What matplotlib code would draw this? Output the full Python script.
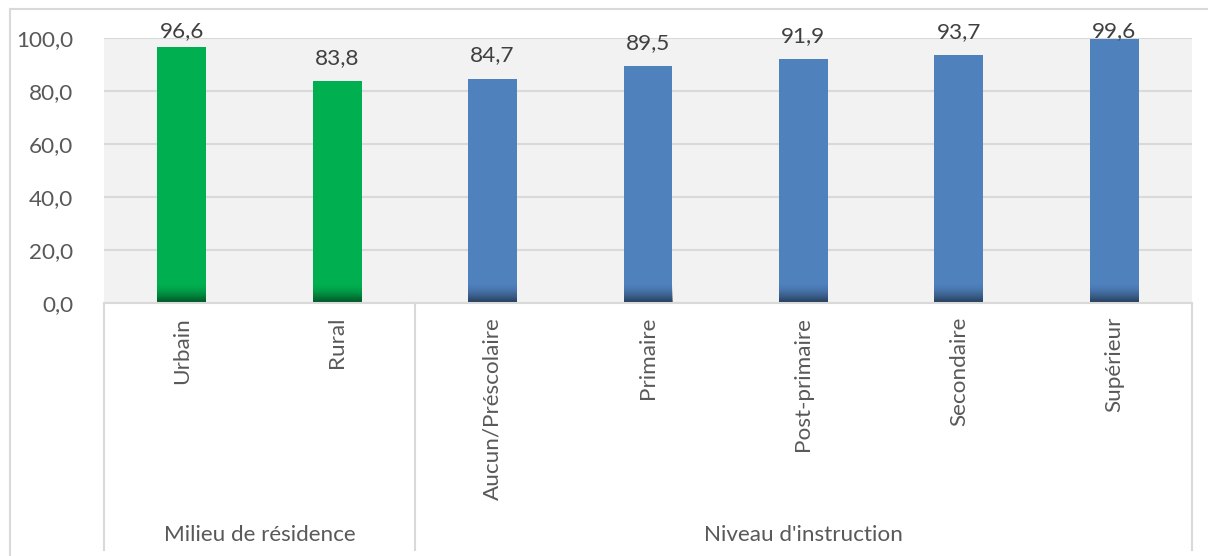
import numpy as np
import matplotlib
matplotlib.use("Agg")
import matplotlib.pyplot as plt
from matplotlib.lines import Line2D

categories = ['Urbain', 'Rural', 'Aucun/Préscolaire', 'Primaire',
              'Post-primaire', 'Secondaire', 'Supérieur']
values = [96.6, 83.8, 84.7, 89.5, 91.9, 93.7, 99.6]
groups = ['Milieu de résidence', "Niveau d'instruction"]
group_sizes = [2, 5]
group_colors = ['#00B050', '#4F81BD']
yticks = [0, 20, 40, 60, 80, 100]

plt.rcParams['font.family'] = ['Lato', 'DejaVu Sans']
txt_color = '#595959'
fs = 16.2

fig = plt.figure(figsize=(12.08, 5.56), dpi=100)
ax = fig.add_axes([104 / 1208, 1 - 303 / 556, 1088 / 1208, 265 / 556])
ax.set_facecolor('#F2F2F2')

x = np.arange(len(categories))
colors = []
for c, n in zip(group_colors, group_sizes):
    colors += [c] * n
bars = ax.bar(x, values, width=0.315, color=colors, zorder=3)

# darker gradient at the foot of each bar (dark at the bottom)
ramp = np.linspace(1, 0, 64)
grad = np.zeros((64, 1, 4))
grad[:, 0, 3] = ramp ** 1.6 * 0.55
for b in bars:
    x0 = b.get_x()
    ax.imshow(grad, extent=[x0, x0 + b.get_width(), 0, 7.5],
              origin='lower', aspect='auto', zorder=4, interpolation='bilinear')

# value labels (Excel-style, kept inside the chart top)
for xi, v in zip(x, values):
    ax.text(xi, min(v + 6.4, 100.2), f'{v:.1f}'.replace('.', ','),
            ha='center', va='baseline', fontsize=fs, color='#404040', zorder=5)

ax.set_xlim(-0.5, len(categories) - 0.5)
ax.set_ylim(0, 100)
ax.set_yticks(yticks)
ax.set_yticklabels([f'{t:.1f}'.replace('.', ',') for t in yticks])
ax.tick_params(axis='y', length=0, pad=22, labelsize=fs, labelcolor=txt_color)
ax.set_xticks([])
ax.yaxis.grid(True, color='#D9D9D9', linewidth=1.5, zorder=0)
ax.set_axisbelow(True)
for s in ax.spines.values():
    s.set_visible(False)

# multi-level category axis
def fx(v):
    return (104 + (v + 0.5) * 1088 / 7) / 1208

def fy(p):
    return 1 - p / 556

line_kw = dict(color='#D9D9D9', linewidth=1.5, transform=fig.transFigure)
fig.add_artist(Line2D([fx(-0.5), fx(6.5)], [fy(303), fy(303)], **line_kw))
bounds = np.cumsum([0] + group_sizes) - 0.5
for b in bounds:
    fig.add_artist(Line2D([fx(b), fx(b)], [fy(303), fy(550)], **line_kw))
for xi, lab in zip(x, categories):
    fig.text(fx(xi), fy(317), lab, rotation=90, ha='center', va='top',
             fontsize=fs, color=txt_color)
for i, g in enumerate(groups):
    fig.text((fx(bounds[i]) + fx(bounds[i + 1])) / 2, fy(535), g,
             ha='center', va='center', fontsize=fs, color=txt_color)

# chart border
fig.add_artist(Line2D([10 / 1208, 10 / 1208], [fy(9), 0], **line_kw))
fig.add_artist(Line2D([10 / 1208, 1], [fy(9), fy(9)], **line_kw))

fig.savefig('out.png', dpi=100)
